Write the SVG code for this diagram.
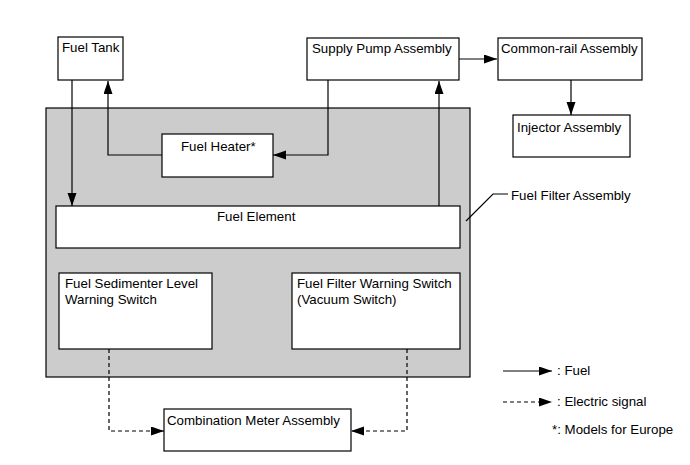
<svg xmlns="http://www.w3.org/2000/svg" width="690" height="465" viewBox="0 0 690 465">
<defs>
<marker id="ah" markerWidth="14" markerHeight="10" refX="13" refY="4.5" orient="auto" markerUnits="userSpaceOnUse">
<path d="M0,0 L13,4.5 L0,9 Z" fill="#000"/>
</marker>
<style>
.box{fill:#fff;stroke:#000;stroke-width:1.2}
.grp{fill:#cccccc;stroke:#000;stroke-width:1.2}
.t{font-family:"Liberation Sans",Arial,sans-serif;font-size:13.3px;fill:#000}
.c{fill:none;stroke:#000;stroke-width:1.2}
.d{fill:none;stroke:#000;stroke-width:1.2;stroke-dasharray:4,3}
</style>
</defs>
<rect width="690" height="465" fill="#fff"/>
<g id="fuel-filter-assembly">
<rect class="grp" x="46" y="108" width="424" height="269"/>
<path class="c" d="M466,221 L493,194 L508,194"/>
<text class="t" x="511" y="200">Fuel Filter Assembly</text>
</g>
<g id="fuel-tank"><rect class="box" x="58" y="37" width="65" height="43"/><text class="t" x="62" y="52">Fuel Tank</text></g>
<g id="supply-pump"><rect class="box" x="307" y="38" width="152" height="42"/><text class="t" x="312" y="53">Supply Pump Assembly</text></g>
<g id="common-rail"><rect class="box" x="498" y="38" width="144" height="42"/><text class="t" x="501" y="53">Common-rail Assembly</text></g>
<g id="injector"><rect class="box" x="513" y="115" width="117" height="42"/><text class="t" x="517" y="132">Injector Assembly</text></g>
<g id="fuel-heater"><rect class="box" x="162" y="134" width="111" height="43"/><text class="t" x="181" y="151">Fuel Heater*</text></g>
<g id="fuel-element"><rect class="box" x="56" y="206" width="404" height="42"/><text class="t" x="217" y="221">Fuel Element</text></g>
<g id="sedimenter-switch"><rect class="box" x="59" y="273" width="153" height="76"/><text class="t" x="65" y="288">Fuel Sedimenter Level</text><text class="t" x="65" y="304">Warning Switch</text></g>
<g id="filter-warning-switch"><rect class="box" x="292" y="273" width="168" height="76"/><text class="t" x="297" y="288">Fuel Filter Warning Switch</text><text class="t" x="297" y="304">(Vacuum Switch)</text></g>
<g id="combination-meter"><rect class="box" x="164" y="409" width="187" height="42"/><text class="t" x="167" y="425">Combination Meter Assembly</text></g>
<g id="connectors">
<path class="c" d="M72,80 L72,206" marker-end="url(#ah)"/>
<path class="c" d="M162,155 L108,155 L108,81" marker-end="url(#ah)"/>
<path class="c" d="M328,80 L328,155 L273,155" marker-end="url(#ah)"/>
<path class="c" d="M439,206 L439,81" marker-end="url(#ah)"/>
<path class="c" d="M459,59 L497,59" marker-end="url(#ah)"/>
<path class="c" d="M571,80 L571,115" marker-end="url(#ah)"/>
<path class="d" d="M109,349 L109,431 L164,431" marker-end="url(#ah)"/>
<path class="d" d="M407,349 L407,431 L351,431" marker-end="url(#ah)"/>
</g>
<g id="legend">
<path class="c" d="M503,371 L552,371" marker-end="url(#ah)"/>
<text class="t" x="557" y="375">: Fuel</text>
<path class="d" d="M503,402 L552,402" marker-end="url(#ah)"/>
<text class="t" x="557" y="406">: Electric signal</text>
<text class="t" x="552" y="434">*: Models for Europe</text>
</g>
</svg>
